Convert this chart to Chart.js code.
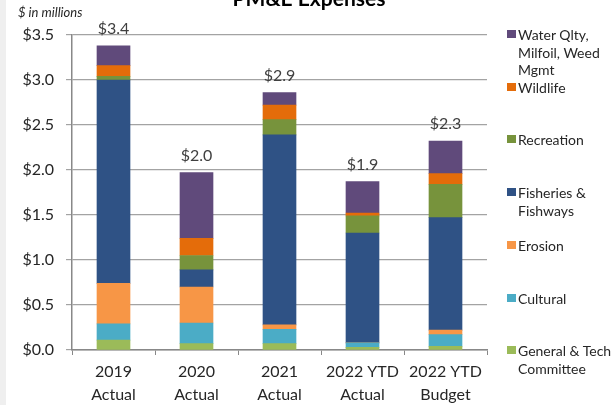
<!DOCTYPE html>
<html lang="en">
<head>
    <meta charset="UTF-8">
    <title>PM&amp;E Expenses</title>
    <script src="https://cdn.jsdelivr.net/npm/chart.js"></script>
    <style>
        html, body { margin: 0; padding: 0; background: #fff; }
        body { width: 613px; height: 405px; position: relative; overflow: hidden; font-family: Lato, sans-serif; }
        #strip { position: absolute; left: 0; top: 0; width: 6px; height: 405px; background: #efefef; }
        #expenseChart { position: absolute; left: 0; top: 0; }
        #legend { position: absolute; left: 0; top: 0; }
        .item { position: absolute; left: 507px; font-size: 14px; line-height: 17.5px; color: #262626; white-space: pre; }
        .item span { position: absolute; left: 0; top: 4px; width: 9px; height: 8px; }
        .item div { margin-left: 11px; }
    </style>
</head>
<body>
    <div id="strip"></div>
    <canvas id="expenseChart" width="613" height="405"></canvas>
    <div id="legend"></div>

    <script>
        const years = [['2019', 'Actual'], ['2020', 'Actual'], ['2021', 'Actual'], ['2022 YTD', 'Actual'], ['2022 YTD', 'Budget']];

        // $ millions per category, bottom of the stack first
        const generalTech = [0.11, 0.07, 0.07, 0.03, 0.04];
        const cultural    = [0.18, 0.23, 0.16, 0.05, 0.13];
        const erosion     = [0.45, 0.40, 0.05, 0.00, 0.05];
        const fisheries   = [2.26, 0.19, 2.11, 1.22, 1.25];
        const recreation  = [0.04, 0.16, 0.17, 0.19, 0.37];
        const wildlife    = [0.12, 0.19, 0.16, 0.03, 0.12];
        const waterQlty   = [0.22, 0.73, 0.14, 0.35, 0.36];

        const yTicks = [0, 0.5, 1, 1.5, 2, 2.5, 3, 3.5];

        const series = [
            { label: 'General & Tech\nCommittee', data: generalTech, color: '#9bbb59' },
            { label: 'Cultural', data: cultural, color: '#4bacc6' },
            { label: 'Erosion', data: erosion, color: '#f79646' },
            { label: 'Fisheries &\nFishways', data: fisheries, color: '#2f5285' },
            { label: 'Recreation', data: recreation, color: '#77933c' },
            { label: 'Wildlife', data: wildlife, color: '#e46c0a' },
            { label: 'Water Qlty,\nMilfoil, Weed\nMgmt', data: waterQlty, color: '#604a7b' }
        ];

        const totals = years.map((_, i) => series.reduce((s, d) => s + d.data[i], 0));

        const textGrey = '#404040';
        const axisGrey = '#888888';

        // title (partly above the canvas edge), axis unit note and stack totals
        const extras = {
            id: 'extras',
            afterDatasetsDraw(chart) {
                const { ctx, scales: { x, y } } = chart;
                ctx.save();
                ctx.fillStyle = '#000';
                ctx.textAlign = 'center';
                ctx.textBaseline = 'middle';
                ctx.font = 'bold 21px Lato';
                ctx.fillText('PM&E Expenses', 309, -1);

                ctx.font = 'italic 13px Lato';
                ctx.textAlign = 'left';
                ctx.fillStyle = '#262626';
                ctx.fillText('$ in millions', 18, 13);

                ctx.font = '16px Lato';
                ctx.textAlign = 'center';
                ctx.fillStyle = textGrey;
                totals.forEach((t, i) => {
                    ctx.fillText('$' + t.toFixed(1), x.getPixelForValue(i), y.getPixelForValue(t) - 17);
                });
                ctx.restore();
            }
        };

        const chart = new Chart(document.getElementById('expenseChart'), {
            type: 'bar',
            data: {
                labels: years,
                datasets: series.map(s => ({
                    label: s.label,
                    data: s.data,
                    backgroundColor: s.color,
                    barThickness: 33
                }))
            },
            options: {
                responsive: false,
                animation: false,
                layout: { padding: { left: 0, top: 35, right: 126, bottom: 0 } },
                plugins: { legend: { display: false }, tooltip: { enabled: false } },
                scales: {
                    x: {
                        stacked: true,
                        offset: true,
                        border: { color: axisGrey, width: 1.5 },
                        grid: { offset: true, drawOnChartArea: false, tickLength: 5, color: axisGrey },
                        ticks: { color: '#262626', font: { family: 'Lato', size: 16, lineHeight: 1.45 }, padding: 5, maxRotation: 0 },
                        afterFit: s => { s.height = 55; }
                    },
                    y: {
                        stacked: true,
                        min: 0,
                        max: 3.5,
                        afterBuildTicks: s => { s.ticks = yTicks.map(v => ({ value: v })); },
                        border: { color: axisGrey, width: 1.5 },
                        grid: { color: '#a3a3a3', lineWidth: 1.2, tickLength: 6 },
                        ticks: {
                            color: '#262626',
                            font: { family: 'Lato', size: 16 },
                            padding: 12,
                            callback: v => '$' + Number(v).toFixed(1)
                        },
                        afterFit: s => { s.width = 72; }
                    }
                }
            },
            plugins: [extras]
        });

        // legend on the right, top entry is the top of the stack
        const legend = document.getElementById('legend');
        chart.data.datasets.slice().reverse().forEach((ds, i) => {
            const item = document.createElement('div');
            item.className = 'item';
            item.style.top = (26 + i * 52.7) + 'px';
            item.innerHTML = '<span style="background:' + ds.backgroundColor + '"></span><div></div>';
            item.querySelector('div').textContent = ds.label;
            legend.appendChild(item);
        });
    </script>
</body>
</html>
